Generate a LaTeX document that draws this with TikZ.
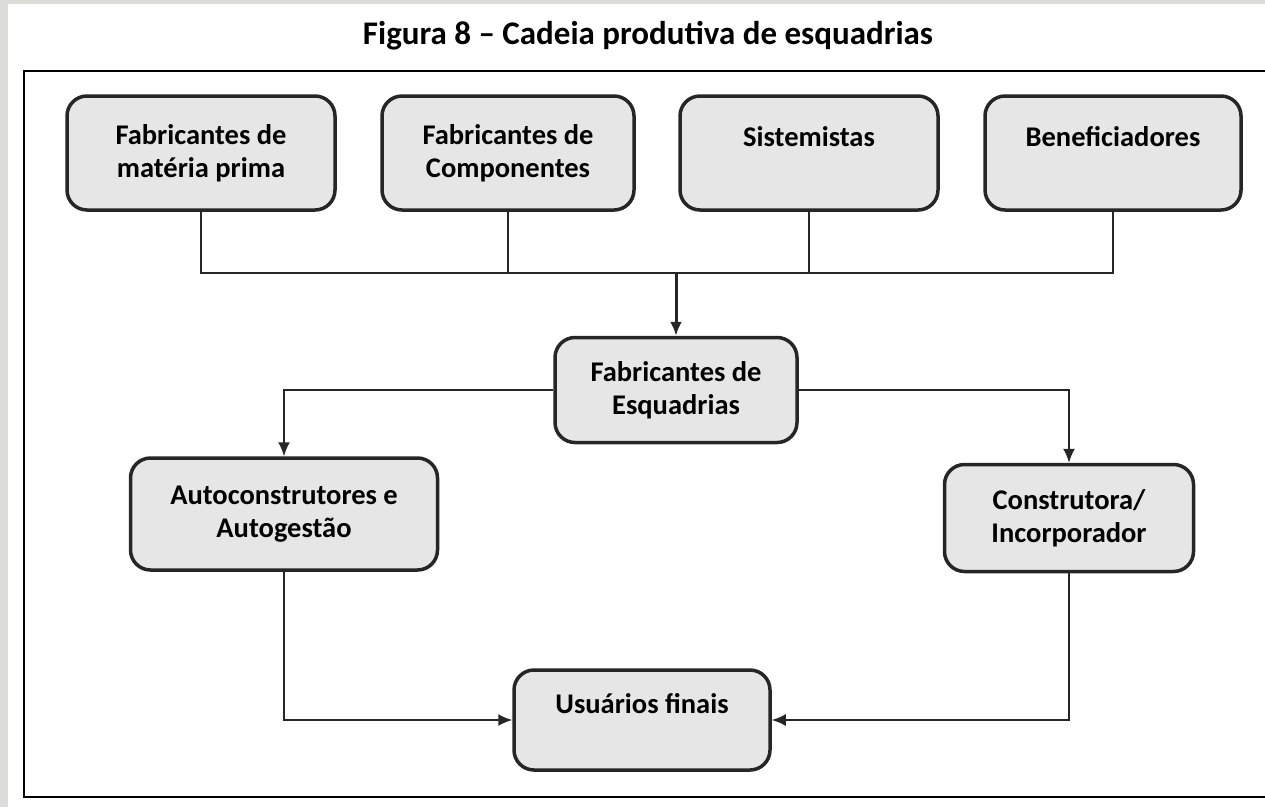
\documentclass[tikz,border=0pt]{standalone}
\usepackage{fontspec}
\setmainfont{Carlito}
\usepackage{tikz}
\usetikzlibrary{arrows.meta}
\definecolor{boxgray}{RGB}{230,230,230}
\definecolor{sidegray}{RGB}{220,220,216}
\tikzstyle{graph}=[x=1pt, y=-1pt, font=\fontsize{28.5}{33}\selectfont\bfseries]
\tikzstyle{b}=[rectangle, rounded corners=20pt, draw=black!85, line width=3.5pt, fill=boxgray, inner sep=0pt, align=center]
\tikzstyle{edge}=[line width=1.8pt, draw=black!85, -{Latex[length=14pt, width=12pt]}]
\tikzstyle{link}=[line width=1.8pt, draw=black!85]

\begin{document}
\begin{tikzpicture}[graph]
	\useasboundingbox (0,0) rectangle (1265,807);
	\fill[sidegray] (0,0) rectangle (8,807);
	\fill[sidegray] (0,0) rectangle (1265,4);
	\draw[line width=2pt] (1265,71) -- (24,71) -- (24,797) -- (1265,797);
	\draw (648,36) node[font=\fontsize{33}{36}\selectfont\bfseries] (title) {Figura 8 – Cadeia produtiva de esquadrias};
	% fornecedores
	\draw (201,153) node[b, minimum width=268pt, minimum height=114pt] (v1) {Fabricantes de\\matéria prima};
	\draw (508,153) node[b, minimum width=252pt, minimum height=114pt] (v2) {Fabricantes de\\Componentes};
	\draw (809,153) node[b, minimum width=258pt, minimum height=114pt] (v3) {Sistemistas\\\mbox{}};
	\draw (1113,153) node[b, minimum width=256pt, minimum height=114pt] (v4) {Beneficiadores\\\mbox{}};
	\draw (676,390) node[b, minimum width=242pt, minimum height=105pt] (v5) {Fabricantes de\\Esquadrias};
	\draw (284,514) node[b, minimum width=307pt, minimum height=112pt] (v6) {Autoconstrutores e\\Autogestão};
	\draw (1069,518) node[b, minimum width=249pt, minimum height=107pt] (v7) {Construtora/\\Incorporador};
	\draw (642,720) node[b, minimum width=256pt, minimum height=100pt] (v8) {Usuários finais\\\mbox{}};
	% ligacoes
	\coordinate (j) at (676,273);
	\draw[link] (v1.south) -- (v1.south |- j) -- (v4.south |- j) -- (v4.south);
	\draw[link] (v2.south) -- (v2.south |- j);
	\draw[link] (v3.south) -- (v3.south |- j);
	\draw[edge, line width=3pt] (j) -- (v5.north);
	\draw[edge] (v5.west) -| (v6.north);
	\draw[edge] (v5.east) -| (v7.north);
	\draw[edge] (v6.south) |- (v8.west);
	\draw[edge] (v7.south) |- (v8.east);
\end{tikzpicture}
\end{document}
